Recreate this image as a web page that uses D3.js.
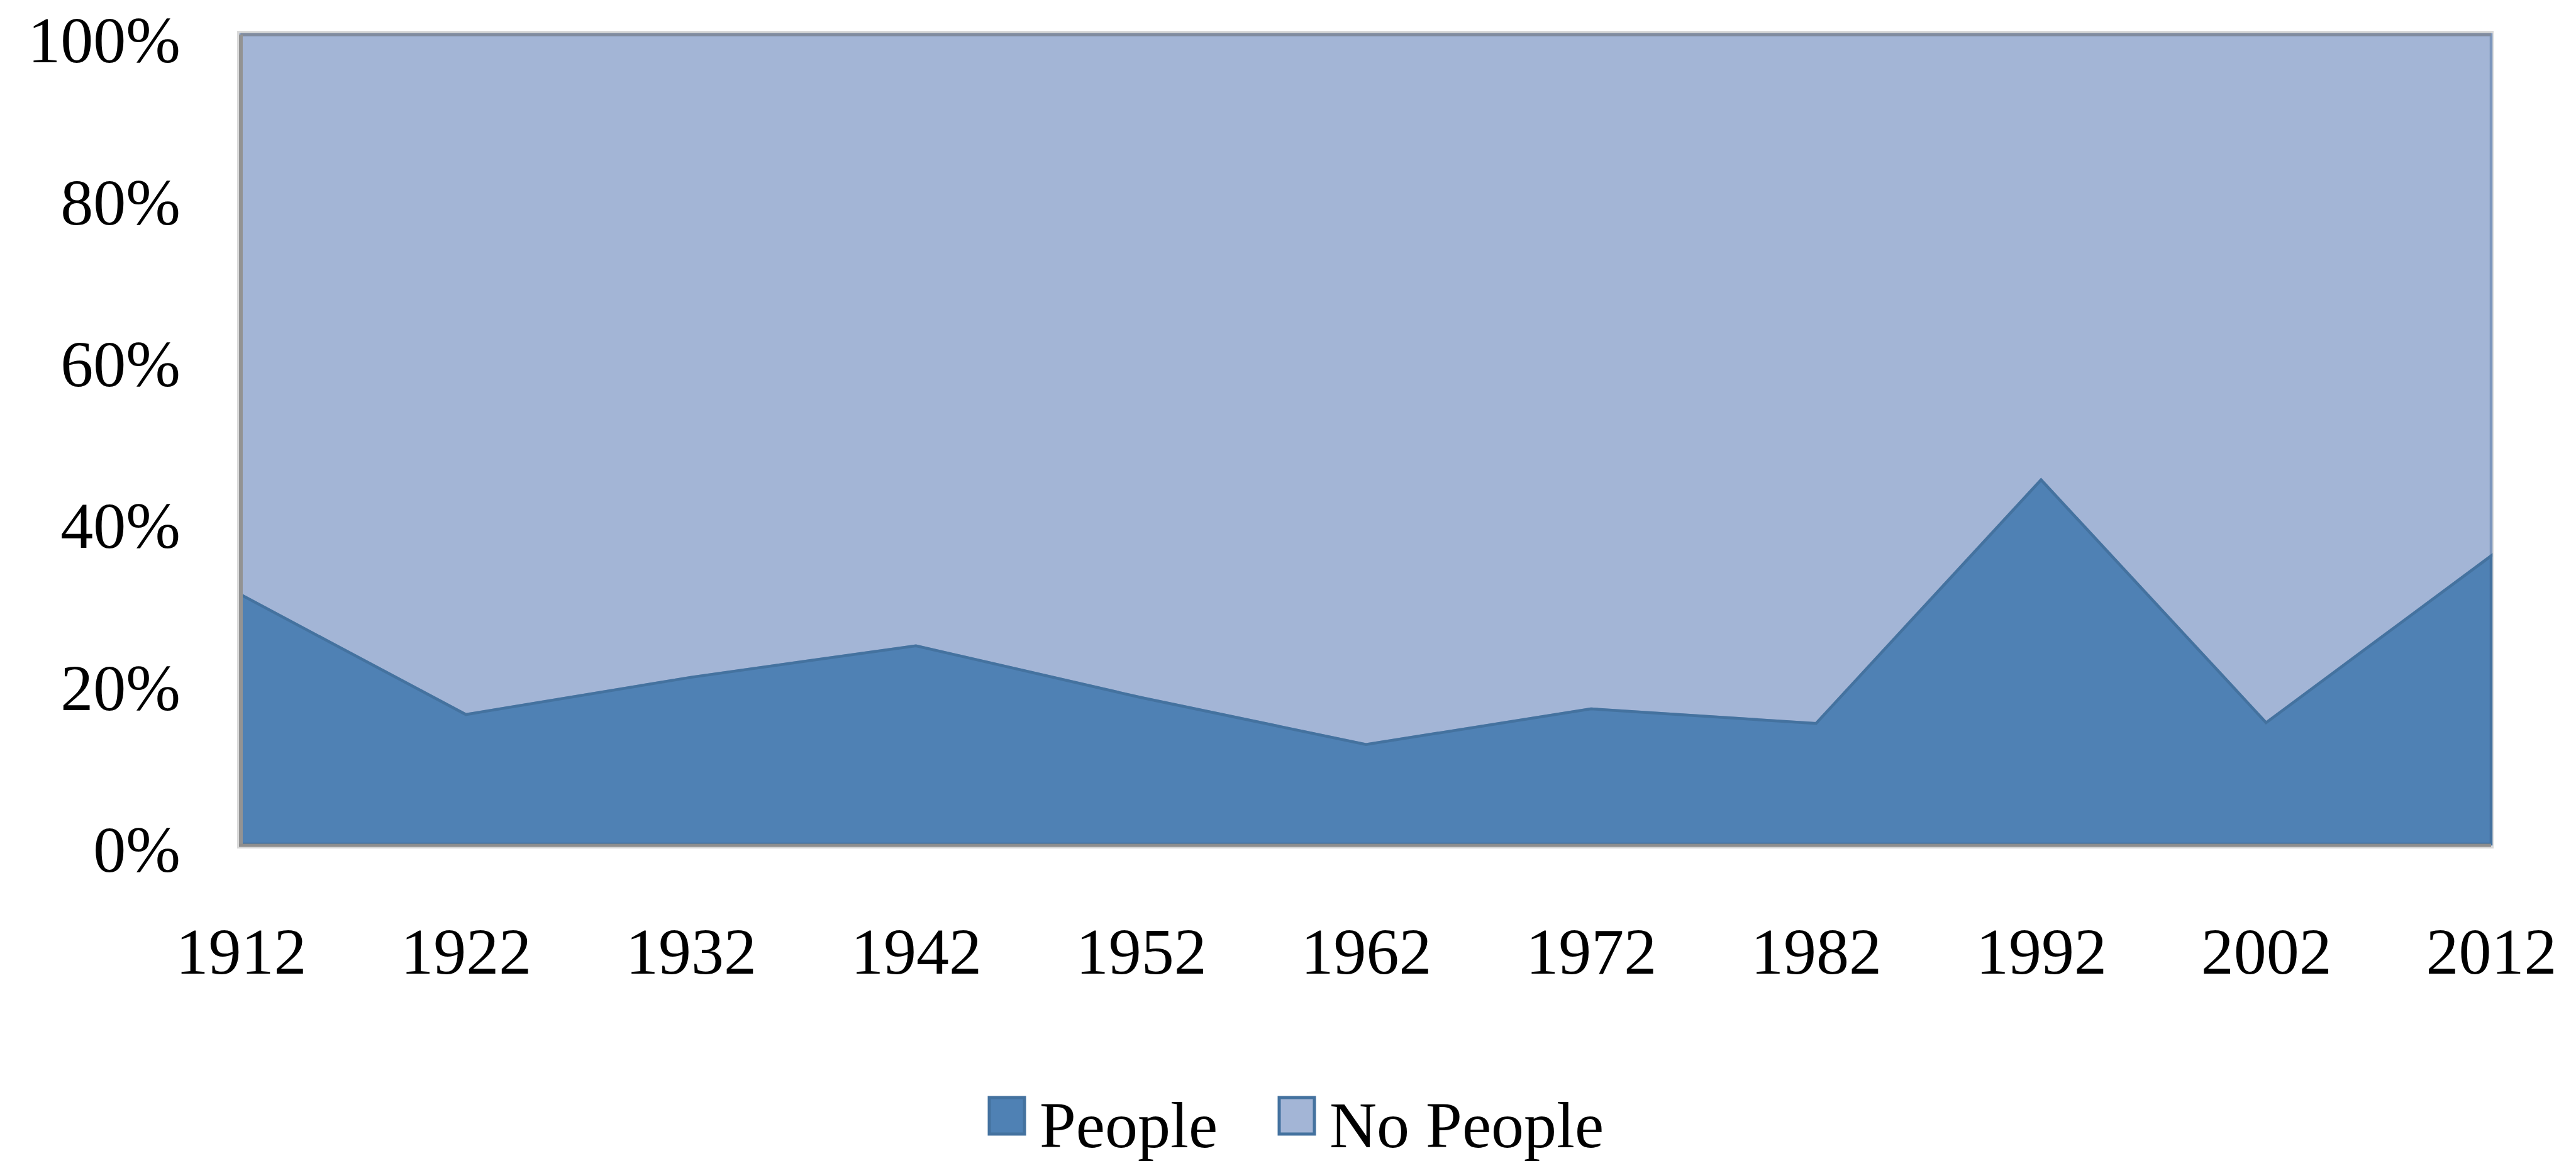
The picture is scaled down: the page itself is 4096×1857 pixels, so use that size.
<!DOCTYPE html>
<html>
<head>
<meta charset="utf-8">
<script src="https://cdn.jsdelivr.net/npm/d3@7"></script>
<style>
  html, body { margin: 0; padding: 0; background: #fff; }
  svg { display: block; }
  .tick text { font-family: "Liberation Serif", "Times New Roman", serif; fill: #000; }
</style>
</head>
<body>
<script>
const years = [1912, 1922, 1932, 1942, 1952, 1962, 1972, 1982, 1992, 2002, 2012];
const people = [30.8, 16.0, 20.6, 24.5, 18.1, 12.3, 16.7, 14.9, 45.0, 15.0, 35.6];
const noPeople = [69.2, 84.0, 79.4, 75.5, 81.9, 87.7, 83.3, 85.1, 55.0, 85.0, 64.4];
const seriesNames = ["People", "No People"];
const yTicks = [0, 0.2, 0.4, 0.6, 0.8, 1];

const colors = {People: "#4f81b4", "No People": "#a3b5d6"};
const strokes = {People: "#44729f", "No People": "#7d96bd"};

const W = 4096, H = 1857;
const margin = {top: 55, right: 135, bottom: 515, left: 383};
const width = W - margin.left - margin.right;
const height = H - margin.top - margin.bottom;
const fontSize = 104;

const rows = years.map((y, i) => ({year: y, "People": people[i], "No People": noPeople[i]}));
const stack = d3.stack().keys(seriesNames).offset(d3.stackOffsetExpand);
const layers = stack(rows);

const x = d3.scaleLinear().domain(d3.extent(years)).range([0, width]);
const y = d3.scaleLinear().domain([0, 1]).range([height, 0]);

const svg = d3.select("body").append("svg")
  .attr("width", W)
  .attr("height", H);

const g = svg.append("g")
  .attr("transform", `translate(${margin.left},${margin.top})`);

// soft shadow round the plot
g.append("rect")
  .attr("x", -4).attr("y", -4)
  .attr("width", width + 6).attr("height", height + 9)
  .attr("fill", "none")
  .attr("stroke", "#d9d9d9")
  .attr("stroke-width", 4);

const area = d3.area()
  .x(d => x(d.data.year))
  .y0(d => y(d[0]))
  .y1(d => y(d[1]));

g.selectAll("path.layer")
  .data(layers.slice().reverse())
  .enter().append("path")
  .attr("class", "layer")
  .attr("d", area)
  .attr("fill", d => colors[d.key])
  .attr("stroke", d => strokes[d.key])
  .attr("stroke-width", 4.5)
  .attr("stroke-linejoin", "miter");

// top edge shading
g.append("line")
  .attr("x1", 0).attr("x2", width)
  .attr("y1", y(1)).attr("y2", y(1))
  .attr("stroke", "#808b9f")
  .attr("stroke-width", 5);

// axis lines
g.append("line")
  .attr("x1", 0).attr("x2", 0)
  .attr("y1", y(1)).attr("y2", y(0) + 3)
  .attr("stroke", "#939393")
  .attr("stroke-width", 6);

g.append("line")
  .attr("x1", -3).attr("x2", width)
  .attr("y1", y(0) + 2).attr("y2", y(0) + 2)
  .attr("stroke", "#8e8e8e")
  .attr("stroke-width", 5);

const yAxis = d3.axisLeft(y)
  .tickValues(yTicks)
  .tickFormat(d3.format(".0%"))
  .tickSize(0)
  .tickPadding(96);

const gy = g.append("g").call(yAxis);
gy.select(".domain").remove();
gy.selectAll("text")
  .style("font-size", fontSize + "px")
  .attr("dy", "0.42em");

const xAxis = d3.axisBottom(x)
  .tickValues(years)
  .tickFormat(d3.format("d"))
  .tickSize(0);

const gx = g.append("g")
  .attr("transform", `translate(0,${height})`)
  .call(xAxis);
gx.select(".domain").remove();
gx.selectAll("text")
  .style("font-size", fontSize + "px")
  .attr("y", 206)
  .attr("dy", null);

// legend
const legendX = [1571, 2032];
const legend = svg.append("g");
const items = legend.selectAll("g")
  .data(seriesNames)
  .enter().append("g")
  .attr("transform", (d, i) => `translate(${legendX[i]},1743)`);

items.append("rect")
  .attr("x", 2).attr("y", 2)
  .attr("width", 56).attr("height", 58)
  .attr("fill", d => colors[d])
  .attr("stroke", "#44729f")
  .attr("stroke-width", 5);

items.append("text")
  .attr("x", 82)
  .attr("y", 81)
  .style("font-family", '"Liberation Serif", "Times New Roman", serif')
  .style("font-size", fontSize + "px")
  .text(d => d);
</script>
</body>
</html>
